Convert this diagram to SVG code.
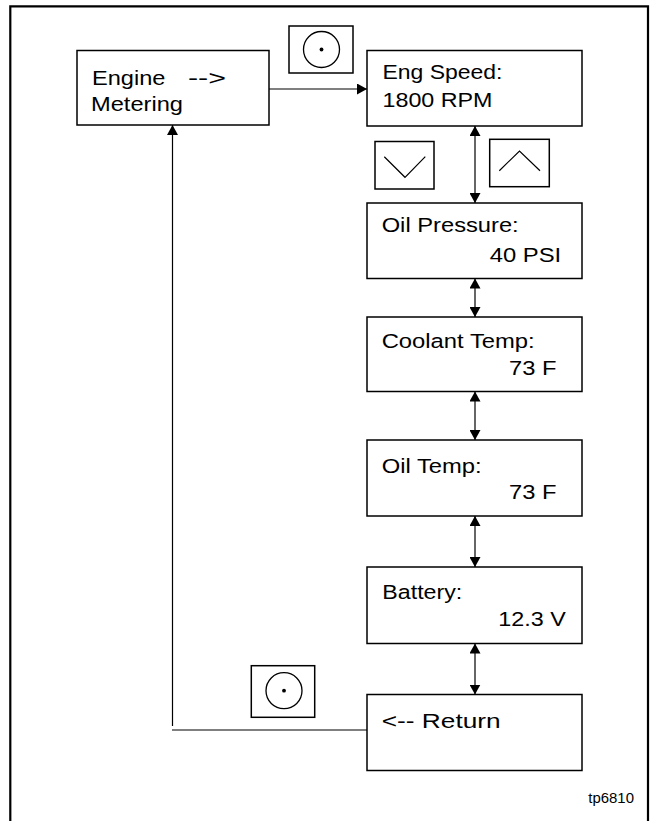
<svg xmlns="http://www.w3.org/2000/svg" width="652" height="821" viewBox="0 0 652 821">
<style>
.box{fill:#fff;stroke:#000;stroke-width:1.5}
.btn{fill:#fff;stroke:#000;stroke-width:1.5}
.ln{fill:none;stroke:#000;stroke-width:1.2}
.frame{fill:none;stroke:#000;stroke-width:2.2}
text{font-family:"Liberation Sans",Arial,Helvetica,sans-serif;font-size:20.5px;fill:#000}
.small{font-size:14px}
</style>
<defs>
<marker id="ah" viewBox="0 0 10 11" markerUnits="userSpaceOnUse" markerWidth="10" markerHeight="11" refX="10" refY="5.5" orient="auto-start-reverse">
<path d="M0,0 L10,5.5 L0,11 z" fill="#000"/>
</marker>
</defs>
<rect width="652" height="821" fill="#fff"/>
<path class="frame" d="M10.3,823 V6.3 H648 V823"/>

<g id="connectors">
<line class="ln" x1="269" y1="89" x2="367" y2="89" marker-end="url(#ah)"/>
<line class="ln" x1="367" y1="730" x2="172" y2="730"/>
<line class="ln" x1="172.5" y1="726" x2="172.5" y2="125" marker-end="url(#ah)"/>
<line class="ln" x1="475" y1="126" x2="475" y2="203" marker-start="url(#ah)" marker-end="url(#ah)"/>
<line class="ln" x1="475" y1="278.5" x2="475" y2="317" marker-start="url(#ah)" marker-end="url(#ah)"/>
<line class="ln" x1="475" y1="391.5" x2="475" y2="440" marker-start="url(#ah)" marker-end="url(#ah)"/>
<line class="ln" x1="475" y1="516" x2="475" y2="567" marker-start="url(#ah)" marker-end="url(#ah)"/>
<line class="ln" x1="475" y1="643.5" x2="475" y2="694.5" marker-start="url(#ah)" marker-end="url(#ah)"/>
</g>

<g id="engine-metering">
<rect class="box" x="77" y="50.5" width="192" height="74.5"/>
<text x="92" y="85" textLength="73.5" lengthAdjust="spacingAndGlyphs">Engine</text>
<text x="188" y="85" textLength="38" lengthAdjust="spacingAndGlyphs">--&gt;</text>
<text x="91" y="111" textLength="92" lengthAdjust="spacingAndGlyphs">Metering</text>
</g>

<g id="btn-select-top">
<rect class="btn" x="289" y="26" width="64" height="47"/>
<circle cx="321.5" cy="49.5" r="18" fill="none" stroke="#000" stroke-width="1.3"/>
<circle cx="321.5" cy="49.5" r="1.9" fill="#000"/>
</g>

<g id="eng-speed">
<rect class="box" x="367" y="50.5" width="215" height="75.5"/>
<text x="382.5" y="78.5" textLength="120" lengthAdjust="spacingAndGlyphs">Eng Speed:</text>
<text x="382.5" y="107" textLength="110" lengthAdjust="spacingAndGlyphs">1800 RPM</text>
</g>

<g id="btn-down">
<rect class="btn" x="375" y="141.5" width="59" height="47.5"/>
<polyline class="ln" points="384.3,156.7 405,177.3 425.3,156.7"/>
</g>

<g id="btn-up">
<rect class="btn" x="489.7" y="139.3" width="59.6" height="47.4"/>
<polyline class="ln" points="499.3,170.7 519.5,151 540,170.7"/>
</g>

<g id="oil-pressure">
<rect class="box" x="367" y="203" width="215" height="75.5"/>
<text x="381.7" y="231.5" textLength="137" lengthAdjust="spacingAndGlyphs">Oil Pressure:</text>
<text x="489.7" y="261.7" textLength="71.5" lengthAdjust="spacingAndGlyphs">40 PSI</text>
</g>

<g id="coolant-temp">
<rect class="box" x="367" y="317" width="215" height="74.5"/>
<text x="381.7" y="348" textLength="153" lengthAdjust="spacingAndGlyphs">Coolant Temp:</text>
<text x="509" y="375" textLength="47.5" lengthAdjust="spacingAndGlyphs">73 F</text>
</g>

<g id="oil-temp">
<rect class="box" x="367" y="440" width="215" height="76"/>
<text x="381.7" y="472.7" textLength="100" lengthAdjust="spacingAndGlyphs">Oil Temp:</text>
<text x="509" y="499.3" textLength="47.5" lengthAdjust="spacingAndGlyphs">73 F</text>
</g>

<g id="battery">
<rect class="box" x="367" y="567" width="215" height="76.5"/>
<text x="382.3" y="599" textLength="80" lengthAdjust="spacingAndGlyphs">Battery:</text>
<text x="498.3" y="625.5" textLength="67.5" lengthAdjust="spacingAndGlyphs">12.3 V</text>
</g>

<g id="btn-select-bottom">
<rect class="btn" x="251.3" y="665.7" width="63.4" height="51.6"/>
<circle cx="284" cy="690.7" r="18" fill="none" stroke="#000" stroke-width="1.3"/>
<circle cx="284" cy="690.7" r="1.9" fill="#000"/>
</g>

<g id="return">
<rect class="box" x="367" y="694.5" width="215" height="76"/>
<text x="381.7" y="728.3" textLength="119" lengthAdjust="spacingAndGlyphs">&lt;-- Return</text>
</g>

<g id="label">
<text class="small" x="588.3" y="802.7" textLength="45.7" lengthAdjust="spacingAndGlyphs">tp6810</text>
</g>
</svg>
